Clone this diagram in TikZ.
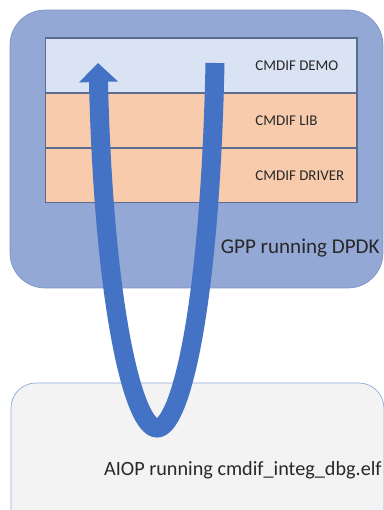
\documentclass[tikz,border=0pt]{standalone}
\usepackage{fontspec}
\setmainfont{Carlito}
\usetikzlibrary{positioning,arrows.meta}
\definecolor{gppfill}{RGB}{147,168,212}
\definecolor{gppline}{RGB}{125,148,200}
\definecolor{demofill}{RGB}{218,227,243}
\definecolor{libfill}{RGB}{248,203,173}
\definecolor{stackline}{RGB}{90,108,145}
\definecolor{aiopfill}{RGB}{243,243,243}
\definecolor{aiopline}{RGB}{143,170,220}
\definecolor{flowblue}{RGB}{68,114,196}
\definecolor{textgray}{RGB}{40,40,40}
\begin{document}
\begin{tikzpicture}[x=0.02cm,y=0.02cm,
  layer/.style={draw=stackline, line width=0.6pt, minimum width=6.24cm, minimum height=1.1cm, inner sep=0pt, outer sep=0pt},
  lbl/.style={anchor=west, inner sep=0pt, text=textgray, font=\fontsize{8.5}{10}\selectfont},
  big/.style={anchor=east, inner sep=0pt, text=textgray},
  flow/.style={draw=flowblue, line width=0.38cm, -{Triangle[width=0.76cm,length=0.38cm]}}]
\clip (0,0) rectangle (384,510);
\node[draw=gppline, fill=gppfill, rounded corners=0.7cm, minimum width=7.46cm, minimum height=5.56cm, outer sep=0pt] (gpp) at (196.5,361) {};
\node[layer, fill=demofill] (demo) at (201,444.5) {};
\node[layer, fill=libfill, below=0pt of demo] (lib) {};
\node[layer, fill=libfill, below=0pt of lib] (driver) {};
\node[lbl] (demotext) at ([xshift=4.2cm]demo.west) {CMDIF DEMO};
\node[lbl] (libtext) at ([xshift=4.2cm]lib.west) {CMDIF LIB};
\node[lbl] (drivertext) at ([xshift=4.2cm]driver.west) {CMDIF DRIVER};
\node[big, font=\fontsize{12}{14}\selectfont] (gpptext) at (380,262) {GPP running DPDK};
\node[draw=aiopline, fill=aiopfill, rounded corners=0.5cm, minimum width=7.46cm, minimum height=3.14cm, anchor=north west, outer sep=0pt] (aiop) at (11,127) {};
\node[big, font=\fontsize{11.5}{14}\selectfont] (aioptext) at (382,40) {AIOP running cmdif\_integ\_dbg.elf};
% the call goes down to the AIOP and comes back up
\coordinate (down) at (215,447);
\coordinate (turn) at (157,82);
\coordinate (up) at (98,447);
\draw[flow] (down) .. controls +(-5,-247) and +(23,0) .. (turn) .. controls +(-23,0) and +(6,-247) .. (up);
\end{tikzpicture}
\end{document}
